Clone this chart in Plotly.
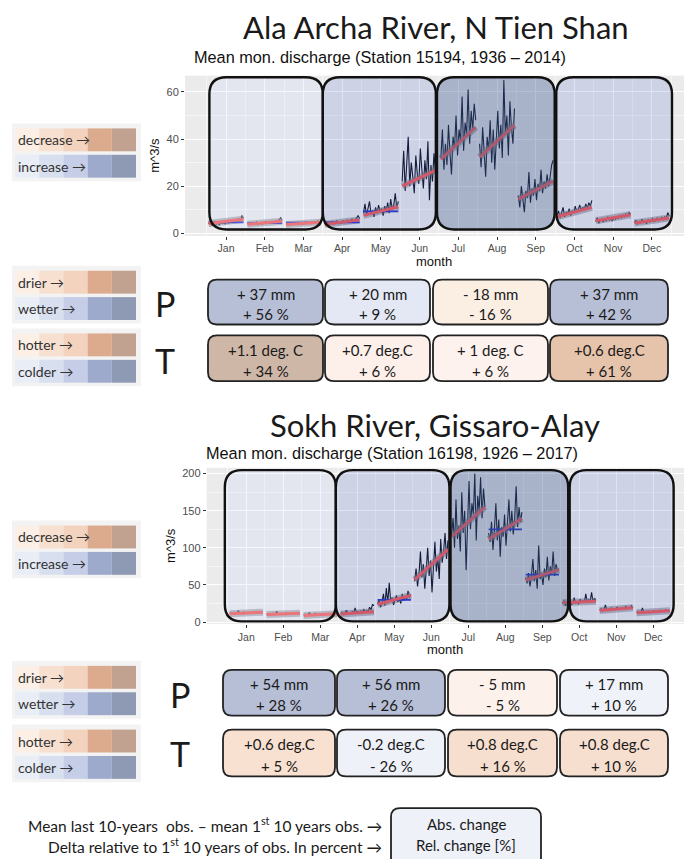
import plotly.graph_objects as go

W, H = 684, 859

month_labels = ["Jan", "Feb", "Mar", "Apr", "May", "Jun", "Jul", "Aug", "Sep", "Oct", "Nov", "Dec"]

# ---------------- Ala Archa River (Station 15194, 1936-2014) : m^3/s, sampled years ----------
aa_jan = [4.0, 4.6, 3.6, 4.2, 5.0, 3.8, 4.4, 3.5, 4.8, 4.1, 4.5, 3.9, 5.2, 4.3, 4.9, 4.6, 5.5, 4.8, 5.9, 5.1, 6.2, 5.4, 7.6, 6.3]
aa_feb = [3.9, 4.3, 3.6, 4.5, 3.8, 4.1, 4.8, 3.7, 4.2, 4.6, 3.9, 4.4, 5.0, 4.2, 4.7, 4.5, 5.1, 4.6, 4.9, 5.3, 4.8, 5.6, 6.6, 5.4]
aa_mar = [3.8, 4.4, 3.5, 4.1, 4.6, 3.7, 4.2, 3.9, 4.7, 4.0, 4.3, 3.8, 4.5, 4.9, 4.2, 4.6, 4.1, 4.8, 4.4, 5.0, 4.6, 5.2, 4.8, 5.3]
aa_apr = [4.2, 3.8, 4.6, 3.6, 4.4, 4.9, 3.9, 4.3, 5.2, 4.1, 4.7, 4.4, 5.4, 4.6, 5.0, 5.6, 4.8, 5.3, 6.0, 5.1, 5.8, 6.4, 7.6, 6.2]
aa_may = [8.5, 12.5, 7.5, 10.0, 13.5, 8.0, 9.5, 7.0, 11.0, 8.5, 12.0, 9.0, 10.5, 7.5, 11.5, 9.5, 13.0, 8.5, 14.5, 10.0, 12.0, 17.0, 10.5, 13.5]
aa_jun = [22, 35, 18, 28, 41, 20, 30, 24, 17, 33, 25, 21, 36, 27, 19, 31, 23, 39, 14, 29, 22, 34, 26, 37]
aa_jul = [32, 44, 27, 38, 29, 46, 34, 25, 41, 36, 50, 33, 44, 39, 58, 35, 47, 42, 61, 38, 52, 44, 55, 48]
aa_aug = [38, 28, 45, 33, 24, 41, 35, 48, 30, 44, 27, 39, 52, 36, 46, 32, 65, 42, 50, 33, 56, 45, 38, 53]
aa_sep = [16, 11, 20, 14, 9, 18, 15, 26, 13, 19, 16, 23, 14, 21, 18, 27, 17, 22, 19, 25, 20, 24, 29, 31]
aa_oct = [7.5, 9.5, 6.5, 8.5, 11.0, 7.0, 9.0, 8.0, 10.5, 7.5, 9.5, 8.5, 11.5, 9.0, 10.0, 12.0, 9.5, 11.0, 10.0, 12.5, 10.5, 13.0, 11.5, 14.0]
aa_nov = [5.0, 6.5, 4.3, 5.5, 6.0, 4.8, 6.2, 5.4, 7.0, 5.6, 6.3, 5.2, 7.2, 6.0, 6.8, 6.4, 7.5, 6.6, 7.8, 7.0, 8.2, 7.4, 8.8, 8.0]
aa_dec = [4.5, 5.5, 3.8, 5.0, 4.2, 6.0, 4.6, 5.3, 4.0, 5.8, 4.8, 5.2, 6.2, 5.0, 5.6, 6.5, 5.4, 6.0, 6.8, 5.8, 7.0, 6.4, 8.8, 7.2]
aa_trend_start = [4.2, 3.8, 3.7, 3.8, 7.6, 20.0, 31.5, 32.3, 14.5, 7.0, 5.3, 4.4]
aa_trend_end = [6.0, 5.1, 4.7, 5.7, 11.3, 27.0, 45.0, 45.9, 22.2, 11.0, 7.9, 6.5]
aa_mean = [4.6, 4.3, 4.5, 4.6, 9.3, None, None, None, None, None, None, None]

# ---------------- Sokh River (Station 16198, 1926-2017) -----------------------------------
sk_jan = [11.5, 12.5, 10.5, 13.0, 11.0, 12.0, 15.5, 11.5, 12.5, 11.0, 13.5, 12.0, 11.5, 12.8, 11.8, 13.2, 12.2, 12.8, 13.5, 12.5, 14.0, 13.0, 13.8, 13.2]
sk_feb = [10.0, 11.0, 9.5, 10.5, 12.0, 9.8, 10.8, 14.5, 10.2, 11.2, 10.0, 11.5, 10.5, 11.0, 12.5, 10.8, 11.5, 11.0, 12.0, 11.2, 11.8, 11.5, 12.5, 11.8]
sk_mar = [9.5, 10.5, 8.8, 10.0, 12.5, 9.2, 10.2, 9.6, 11.8, 9.8, 10.5, 10.0, 11.0, 10.3, 10.8, 11.5, 10.5, 11.0, 10.7, 11.3, 10.9, 11.6, 11.2, 11.8]
sk_apr = [11, 13, 10, 12, 16, 10.5, 12.5, 11.5, 14, 12, 19, 12.5, 14.5, 13, 15, 13.5, 17, 14, 15.5, 14.5, 20, 16, 24, 22]
sk_may = [24, 30, 20, 27, 38, 22, 46, 25, 53, 28, 33, 23, 30, 36, 27, 32, 25, 38, 29, 35, 31, 42, 33, 37]
sk_jun = [55, 72, 48, 64, 95, 60, 78, 45, 70, 100, 62, 83, 40, 75, 108, 68, 88, 58, 112, 80, 95, 120, 85, 110]
sk_jul = [118, 140, 100, 165, 112, 130, 95, 175, 120, 150, 70, 135, 190, 125, 160, 145, 200, 110, 170, 150, 195, 140, 180, 155]
sk_aug = [120, 108, 135, 97, 125, 160, 110, 138, 88, 128, 115, 145, 103, 132, 165, 122, 150, 118, 140, 183, 128, 155, 135, 148]
sk_sep = [60, 52, 66, 48, 62, 85, 55, 70, 45, 103, 58, 64, 50, 72, 60, 88, 56, 75, 65, 95, 62, 78, 68, 72]
sk_oct = [25, 29, 22, 27, 24, 30, 23, 26, 33, 25, 28, 24, 31, 26, 29, 27, 38, 26, 30, 28, 40, 27, 32, 29]
sk_nov = [16.5, 18, 15, 17, 23, 16, 17.5, 16.2, 19, 16.8, 18.2, 17, 20, 17.5, 18.5, 17.8, 19, 18.2, 21, 18.5, 19.5, 18.8, 22, 19.2]
sk_dec = [13, 14.5, 12, 13.5, 19, 12.8, 14, 13.2, 15, 12.5, 14.2, 13.5, 15.5, 13.8, 14.5, 14, 16, 14.2, 15, 14.6, 16.5, 14.8, 15.5, 15.2]
sk_trend_start = [11.2, 10.3, 8.8, 11.0, 24.0, 57.0, 115.0, 111.7, 56.7, 25.9, 15.6, 12.5]
sk_trend_end = [13.4, 12.0, 11.2, 14.0, 36.0, 98.0, 155.0, 139.4, 70.6, 28.1, 19.2, 15.2]
sk_mean = [None, None, None, None, 30.0, None, None, 125.0, 64.0, None, None, None]

# ---------------- Seasonal change tables ----------------------------------------------------
aa_P_abs = ["+ 37 mm", "+ 20 mm", "- 18 mm", "+ 37 mm"]
aa_P_rel = ["+ 56 %", "+ 9 %", "- 16 %", "+ 42 %"]
aa_T_abs = ["+1.1 deg. C", "+0.7 deg.C", "+ 1 deg. C", "+0.6 deg.C"]
aa_T_rel = ["+ 34 %", "+ 6 %", "+ 6 %", "+ 61 %"]
sk_P_abs = ["+ 54 mm", "+ 56 mm", "- 5 mm", "+ 17 mm"]
sk_P_rel = ["+ 28 %", "+ 26 %", "- 5 %", "+ 10 %"]
sk_T_abs = ["+0.6 deg.C", "-0.2 deg.C", "+0.8 deg.C", "+0.8 deg.C"]
sk_T_rel = ["+ 5 %", "- 26 %", "+ 16 %", "+ 10 %"]

# ---------------- styles -------------------------------------------------------------------
aa_P_col = ["#b6bfd6", "#e3e8f4", "#fbeee3", "#b6bfd6"]
aa_T_col = ["#cfb7a8", "#fdf0ea", "#fdf2ee", "#e6c3ab"]
sk_P_col = ["#b6bfd6", "#b6bfd6", "#fdf1ec", "#eff2f9"]
sk_T_col = ["#f8e1d1", "#eef1f8", "#f7dfcf", "#f7dfcf"]
warm_cells = ["#fcefe6", "#f8e0d0", "#f3d3bd", "#dcaa8c", "#c1a18f"]
cool_cells = ["#e9edf6", "#d8dfef", "#c5cee6", "#9eaacc", "#8e99b3"]
season_fill = ["rgba(205,215,255,0.22)", "rgba(60,90,200,0.17)", "rgba(60,90,150,0.38)", "rgba(60,90,200,0.17)"]

CAL = "Lato, DejaVu Sans, sans-serif"
GG = "Liberation Sans, Arial, sans-serif"

aa_series = [aa_jan, aa_feb, aa_mar, aa_apr, aa_may, aa_jun, aa_jul, aa_aug, aa_sep, aa_oct, aa_nov, aa_dec]
sk_series = [sk_jan, sk_feb, sk_mar, sk_apr, sk_may, sk_jun, sk_jul, sk_aug, sk_sep, sk_oct, sk_nov, sk_dec]

# panel geometry (pixels) and axis ranges
P1 = dict(x0=185, x1=684, y0=76, y1=237, xr=[-0.06, 12.83], yr=[-1.1, 66.9])
P2 = dict(x0=206.7, x1=684, y0=470, y1=627, xr=[-0.07, 12.83], yr=[-2.7, 207.8])
aa_seasons = [(0.57, 3.5), (3.5, 6.42), (6.45, 9.49), (9.53, 12.52)]
aa_season_y = (1.6, 66.2)
sk_seasons = [(0.42, 3.42), (3.42, 6.49), (6.52, 9.7), (9.74, 12.55)]
sk_season_y = (0.9, 204.7)

fig = go.Figure()


def add_river(series, t0, t1, means, xa, ya):
    xs, ys = [], []
    for i, vals in enumerate(series):
        m = i + 1
        n = len(vals)
        xs += [m - 0.45 + 0.9 * k / (n - 1) for k in range(n)] + [None]
        ys += list(vals) + [None]
    fig.add_trace(go.Scatter(x=xs, y=ys, mode="lines", line=dict(color="#0b1020", width=1.1),
                             xaxis=xa, yaxis=ya, hoverinfo="skip", showlegend=False))
    tx, ty = [], []
    for i in range(12):
        m = i + 1
        tx += [m - 0.45, m + 0.45, None]
        ty += [t0[i], t1[i], None]
    fig.add_trace(go.Scatter(x=tx, y=ty, mode="lines", line=dict(color="rgba(120,120,125,0.5)", width=7),
                             xaxis=xa, yaxis=ya, hoverinfo="skip", showlegend=False))
    bx, by = [], []
    for i, mv in enumerate(means):
        if mv is None:
            continue
        m = i + 1
        bx += [m - 0.45, m + 0.45, None]
        by += [mv, mv, None]
    fig.add_trace(go.Scatter(x=bx, y=by, mode="lines", line=dict(color="#2233cc", width=1.8),
                             xaxis=xa, yaxis=ya, hoverinfo="skip", showlegend=False))
    fig.add_trace(go.Scatter(x=tx, y=ty, mode="lines", line=dict(color="#f25a57", width=3),
                             xaxis=xa, yaxis=ya, hoverinfo="skip", showlegend=False))


add_river(aa_series, aa_trend_start, aa_trend_end, aa_mean, "x", "y")
add_river(sk_series, sk_trend_start, sk_trend_end, sk_mean, "x2", "y2")

shapes = []
annotations = []


def X(px):
    return px / W


def Y(py):
    return 1 - py / H


def rr_path(x0, x1, yb, yt, rx, ry, fx=lambda v: v, fy=lambda v: v):
    pts = [
        ("M", [(x0 + rx, yt)]), ("L", [(x1 - rx, yt)]), ("Q", [(x1, yt), (x1, yt - ry)]),
        ("L", [(x1, yb + ry)]), ("Q", [(x1, yb), (x1 - rx, yb)]), ("L", [(x0 + rx, yb)]),
        ("Q", [(x0, yb), (x0, yb + ry)]), ("L", [(x0, yt - ry)]), ("Q", [(x0, yt), (x0 + rx, yt)]),
    ]
    s = ""
    for cmd, pp in pts:
        s += cmd + " " + " ".join(f"{fx(a):.5f},{fy(b):.5f}" for a, b in pp) + " "
    return s + "Z"


def paper_box(x0, y0, x1, y1, r, fill, lw=1.8, lc="#222222"):
    # pixel coords, y0 top
    path = rr_path(x0, x1, y1, y0, r, -r, X, Y)
    shapes.append(dict(type="path", path=path, xref="paper", yref="paper", fillcolor=fill,
                       line=dict(color=lc, width=lw), layer="above"))


def season_rects(P, seasons, sy, xref, yref):
    ppx = (P["x1"] - P["x0"]) / (P["xr"][1] - P["xr"][0])
    ppy = (P["y1"] - P["y0"]) / (P["yr"][1] - P["yr"][0])
    r = 17
    for (a, b), col in zip(seasons, season_fill):
        path = rr_path(a, b, sy[0], sy[1], r / ppx, r / ppy)
        shapes.append(dict(type="path", path=path, xref=xref, yref=yref, fillcolor=col,
                           line=dict(color="#111111", width=2.4), layer="above"))


season_rects(P1, aa_seasons, aa_season_y, "x", "y")
season_rects(P2, sk_seasons, sk_season_y, "x2", "y2")


def ann(text, px, py, size, family=CAL, color="#1a1a1a", xanchor="center", yanchor="middle", **kw):
    annotations.append(dict(text=text, x=X(px), y=Y(py), xref="paper", yref="paper", showarrow=False,
                            font=dict(size=size, family=family, color=color), xanchor=xanchor,
                            yanchor=yanchor, **kw))


def legend_block(top, labels_cells):
    n = len(labels_cells)
    shapes.append(dict(type="rect", xref="paper", yref="paper", x0=X(12), x1=X(141), y0=Y(top - 5),
                       y1=Y(top + n * 26 + 1), fillcolor="#f3f3f3", line=dict(width=0), layer="above"))
    for j, (label, cells) in enumerate(labels_cells):
        ty = top + j * 26.5
        cw = (136 - 15) / len(cells)
        for k, c in enumerate(cells):
            shapes.append(dict(type="rect", xref="paper", yref="paper", x0=X(15 + k * cw), x1=X(15 + (k + 1) * cw),
                               y0=Y(ty), y1=Y(ty + 23), fillcolor=c, line=dict(width=0), layer="above"))
        ann(label, 16, ty + 11.5, 14, xanchor="left", color="#333333")


def change_row(y0, y1, xs, cols, abs_t, rel_t):
    for (a, b), c, t1, t2 in zip(xs, cols, abs_t, rel_t):
        paper_box(a, y0, b, y1, 9, c)
        ann(t1, (a + b) / 2, y0 + (y1 - y0) * 0.31, 15)
        ann(t2, (a + b) / 2, y0 + (y1 - y0) * 0.77, 15)


# ---------------- River 1 -------------------------------------------------------------------
ann("Ala Archa River, N Tien Shan", 435.5, 27, 31)
ann("Mean mon. discharge (Station 15194, 1936 – 2014)", 380, 57, 16.3, family=GG, color="#111111")
ann("m^3/s", 155, 156.5, 13, family=GG, textangle=-90, color="#111111")
ann("month", 434.5, 263, 13, family=GG, color="#111111")
legend_block(129, [("decrease →", warm_cells), ("increase →", cool_cells)])
legend_block(272, [("drier →", warm_cells), ("wetter →", cool_cells)])
legend_block(335, [("hotter →", warm_cells), ("colder →", cool_cells)])
ann("P", 165, 305, 34)
ann("T", 165, 362, 34)
aa_box_x = [(208, 323), (325, 430), (433, 548), (550, 668)]
change_row(281, 326, aa_box_x, aa_P_col, aa_P_abs, aa_P_rel)
change_row(337, 383, aa_box_x, aa_T_col, aa_T_abs, aa_T_rel)

# ---------------- River 2 -------------------------------------------------------------------
ann("Sokh River, Gissaro-Alay", 435, 427, 31)
ann("Mean mon. discharge (Station 16198, 1926 – 2017)", 392, 455, 16.3, family=GG, color="#111111")
ann("m^3/s", 171, 548.5, 13, family=GG, textangle=-90, color="#111111")
ann("month", 445, 653, 13, family=GG, color="#111111")
legend_block(528, [("decrease →", warm_cells), ("increase →", cool_cells)])
legend_block(669, [("drier →", warm_cells), ("wetter →", cool_cells)])
legend_block(733, [("hotter →", warm_cells), ("colder →", cool_cells)])
ann("P", 180, 698, 34)
ann("T", 180, 757, 34)
sk_box_x = [(223, 335), (337, 445), (448, 557), (560, 668)]
change_row(673, 719, sk_box_x, sk_P_col, sk_P_abs, sk_P_rel)
change_row(733, 780, sk_box_x, sk_T_col, sk_T_abs, sk_T_rel)

# ---------------- Explanation ---------------------------------------------------------------
ann("Mean last 10-years  obs. – mean 1<sup>st</sup> 10 years obs. →", 384, 828, 15.5, xanchor="right")
ann("Delta relative to 1<sup>st</sup> 10 years of obs. In percent →", 384, 849, 15.5, xanchor="right")
paper_box(391, 812, 541, 872, 9, "#eef1f8")
ann("Abs. change", 466, 828, 15)
ann("Rel. change [%]", 466, 849, 15)


def xaxis_cfg(P):
    return dict(domain=[X(P["x0"]), X(P["x1"])], range=P["xr"], tickvals=list(range(1, 13)),
                ticktext=month_labels, showgrid=True, gridcolor="white", gridwidth=1.1, zeroline=False,
                ticks="outside", ticklen=3, tickcolor="#333333", tickwidth=1,
                tickfont=dict(family=GG, size=10.5, color="#4d4d4d"), fixedrange=True,
                minor=dict(tickvals=[i + 0.5 for i in range(13)], showgrid=True,
                           gridcolor="rgba(255,255,255,0.55)", gridwidth=0.6))


def yaxis_cfg(P, ticks, minors):
    return dict(domain=[Y(P["y1"]), Y(P["y0"])], range=P["yr"], tickvals=ticks, showgrid=True,
                gridcolor="white", gridwidth=1.1, zeroline=False, ticks="outside", ticklen=3,
                tickcolor="#333333", tickfont=dict(family=GG, size=11, color="#4d4d4d"), fixedrange=True,
                minor=dict(tickvals=minors, showgrid=True, gridcolor="rgba(255,255,255,0.55)", gridwidth=0.6))


fig.update_layout(
    width=W, height=H, margin=dict(l=0, r=0, t=0, b=0), autosize=False,
    paper_bgcolor="white", plot_bgcolor="#ebebeb", showlegend=False,
    xaxis=xaxis_cfg(P1), yaxis=yaxis_cfg(P1, [0, 20, 40, 60], [10, 30, 50]),
    xaxis2=dict(xaxis_cfg(P2), anchor="y2"),
    yaxis2=dict(yaxis_cfg(P2, [0, 50, 100, 150, 200], [25, 75, 125, 175]), anchor="x2"),
    shapes=shapes, annotations=annotations,
)
fig.update_layout(xaxis=dict(anchor="y"), yaxis=dict(anchor="x"))

fig.write_html("out.html")
